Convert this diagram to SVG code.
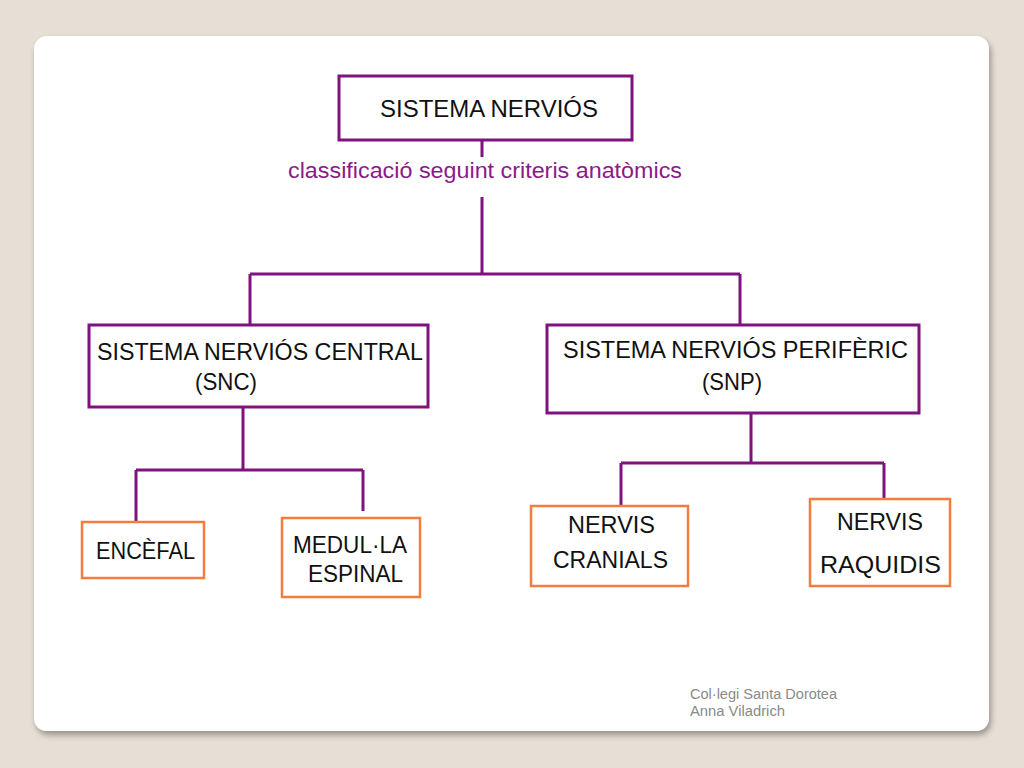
<svg xmlns="http://www.w3.org/2000/svg" width="1024" height="768" viewBox="0 0 1024 768">
<defs>
<filter id="sh" x="-5%" y="-5%" width="110%" height="112%">
<feGaussianBlur in="SourceAlpha" stdDeviation="3"/>
<feOffset dx="2" dy="4"/>
<feComponentTransfer><feFuncA type="linear" slope="0.35"/></feComponentTransfer>
<feMerge><feMergeNode/><feMergeNode in="SourceGraphic"/></feMerge>
</filter>
<style>
.p{fill:#fff;stroke:#7f127f;stroke-width:3}
.o{fill:#fff;stroke:#f47c3c;stroke-width:2.5}
.c{fill:none;stroke:#7f127f;stroke-width:3}
.t{font-family:"Comic Sans MS","Liberation Sans","DejaVu Sans",sans-serif;font-size:24px;fill:#111}
.l{font-family:"Comic Sans MS","Liberation Sans","DejaVu Sans",sans-serif;font-size:22px;fill:#8b1a89}
.f{font-family:"Comic Sans MS","Liberation Sans","DejaVu Sans",sans-serif;font-size:14px;fill:#8a8a8a}
</style>
</defs>
<rect width="1024" height="768" fill="#e6dfd5"/>
<rect x="34" y="36" width="955" height="695" rx="13" fill="#fff" filter="url(#sh)"/>
<g id="connectors">
<path class="c" d="M482 140V157M482 197V274M250 274H740M250 274V325M740 274V325"/>
<path class="c" d="M243 407V470M136 470H363M136 470V522M363 470V511"/>
<path class="c" d="M751 413V463M621 463H884M621 463V506M884 463V499"/>
</g>
<g id="n-sn">
<rect class="p" x="339" y="76" width="293" height="64"/>
<text class="t" x="380" y="117" textLength="218" lengthAdjust="spacingAndGlyphs">SISTEMA NERVIÓS</text>
</g>
<g id="label">
<text class="l" x="288" y="178" textLength="394" lengthAdjust="spacingAndGlyphs">classificació seguint criteris anatòmics</text>
</g>
<g id="n-snc">
<rect class="p" x="89" y="325" width="339" height="82"/>
<text class="t" x="97" y="360" textLength="326" lengthAdjust="spacingAndGlyphs">SISTEMA NERVIÓS CENTRAL</text>
<text class="t" x="195" y="390" textLength="62" lengthAdjust="spacingAndGlyphs">(SNC)</text>
</g>
<g id="n-snp">
<rect class="p" x="547" y="325" width="372" height="88"/>
<text class="t" x="563" y="358" textLength="345" lengthAdjust="spacingAndGlyphs">SISTEMA NERVIÓS PERIFÈRIC</text>
<text class="t" x="702" y="390" textLength="60" lengthAdjust="spacingAndGlyphs">(SNP)</text>
</g>
<g id="n-encefal">
<rect class="o" x="82" y="522" width="122" height="56"/>
<text class="t" x="96" y="559" textLength="99" lengthAdjust="spacingAndGlyphs">ENCÈFAL</text>
</g>
<g id="n-medulla">
<rect class="o" x="282" y="518" width="138" height="79"/>
<text class="t" x="293" y="553" textLength="114" lengthAdjust="spacingAndGlyphs">MEDUL·LA</text>
<text class="t" x="308" y="582" textLength="95" lengthAdjust="spacingAndGlyphs">ESPINAL</text>
</g>
<g id="n-cranials">
<rect class="o" x="531" y="506" width="157" height="80"/>
<text class="t" x="568" y="533" textLength="87" lengthAdjust="spacingAndGlyphs">NERVIS</text>
<text class="t" x="553" y="568" textLength="115" lengthAdjust="spacingAndGlyphs">CRANIALS</text>
</g>
<g id="n-raquidis">
<rect class="o" x="810" y="499" width="140" height="87"/>
<text class="t" x="837" y="530" textLength="86" lengthAdjust="spacingAndGlyphs">NERVIS</text>
<text class="t" x="820" y="573" textLength="121" lengthAdjust="spacingAndGlyphs">RAQUIDIS</text>
</g>
<g id="footer">
<text class="f" x="690" y="699" textLength="147" lengthAdjust="spacingAndGlyphs">Col·legi Santa Dorotea</text>
<text class="f" x="690" y="716" textLength="95" lengthAdjust="spacingAndGlyphs">Anna Viladrich</text>
</g>
</svg>
